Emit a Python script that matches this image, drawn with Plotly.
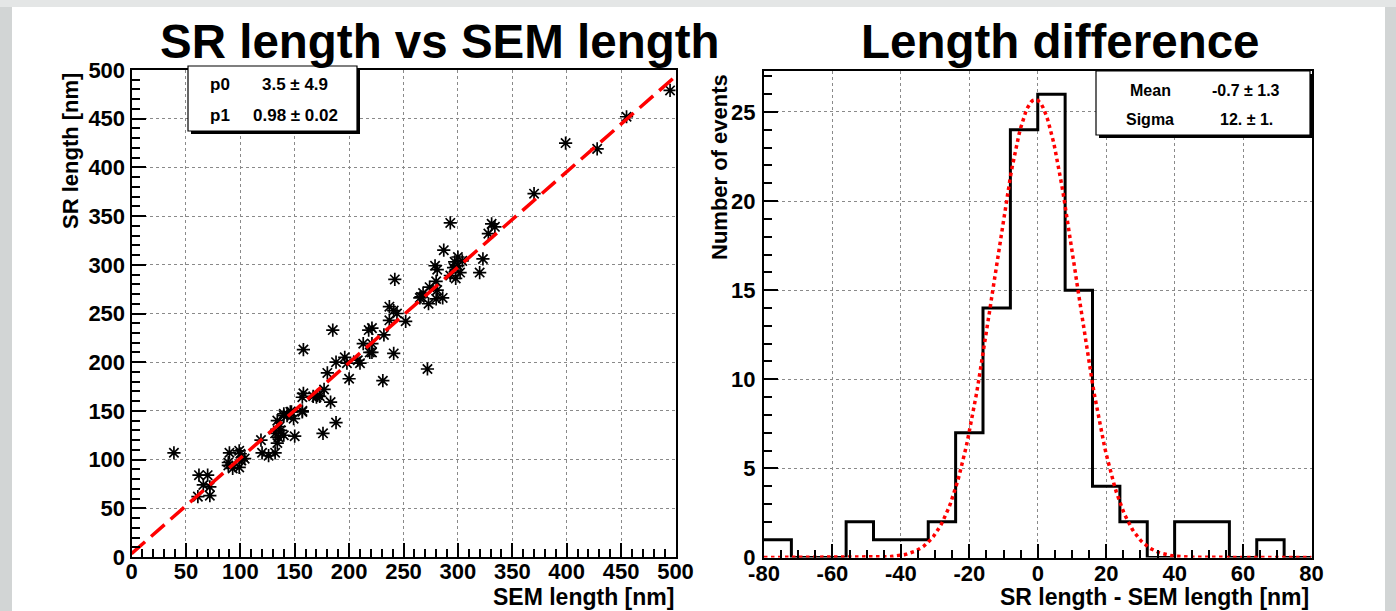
import numpy as np
import plotly.graph_objects as go

W, H = 1396, 611

# ---------------- data: scatter (SEM length, SR length) ----------------
sem_length = [370, 399, 428, 455, 495,
              293, 331, 328, 334, 287, 323, 320, 300, 297, 300, 302, 298, 279, 281, 293,
              280, 274, 268, 265, 273, 280, 286, 281, 242, 237, 241, 244, 237, 252, 221,
              232, 221, 221, 241, 272, 231, 296, 304, 266,
              185, 218, 158, 213, 219, 188, 196, 198, 208, 210, 180, 200, 177, 158, 167,
              170, 173, 157, 183, 157, 140, 146, 134, 149, 137, 150, 176, 188, 132, 140,
              143, 136, 171,
              39, 62, 70, 66, 72, 72, 61, 90, 99, 100, 89, 89, 101, 104, 99, 93, 119, 120,
              126, 132, 134, 135, 140, 147, 157]
sr_length = [373, 425, 419, 452, 479,
             343, 342, 332, 339, 315, 306, 292, 308, 303, 299, 292, 286, 299, 295, 289,
             283, 277, 271, 266, 260, 265, 266, 274, 285, 257, 253, 250, 243, 242, 235,
             228, 219, 210, 209, 193, 181, 297, 304, 267,
             233, 233, 213, 219, 210, 200, 205, 199, 202, 199, 189, 183, 172, 168, 165,
             164, 165, 164, 159, 150, 147, 149, 140, 142, 130, 124, 127, 138, 127, 125,
             145, 134, 166,
             107, 84, 84, 74, 72, 63, 62, 107, 109, 106, 97, 94, 99, 101, 92, 91, 120, 107,
             104, 107, 117, 123, 145, 149, 149]

# linear fit parameters
p0, p1 = 3.5, 0.98
fit_x = [0, 500]

# ---------------- data: histogram of differences ----------------
bin_edges = [-80, -72, -64, -56, -48, -40, -32, -24, -16, -8, 0,
             8, 16, 24, 32, 40, 48, 56, 64, 72, 80]
bin_counts = [1, 0, 0, 2, 1, 1, 2, 7, 14, 24, 26, 15, 4, 2, 0, 2, 2, 0, 1, 0]

# gaussian fit parameters
g_const, g_mean, g_sigma = 25.7, -0.7, 12.0

# tick labels
left_ticks = list(range(0, 501, 50))
hist_xticks = list(range(-80, 81, 20))
hist_yticks = list(range(0, 26, 5))

# ---------------- helpers ----------------
def PX(px):
    return px / W

def PY(py):
    return 1 - py / H

FONT = "Liberation Sans, Arial, sans-serif"

fig = go.Figure()

# scatter points
fig.add_trace(go.Scatter(
    x=sem_length, y=sr_length, mode="markers",
    marker=dict(symbol="asterisk-open", size=11, color="black",
                line=dict(color="black", width=1.7)),
    xaxis="x", yaxis="y", showlegend=False, hoverinfo="skip"))

# fit line
fit_y = [p0 + p1 * v for v in fit_x]
fig.add_trace(go.Scatter(
    x=fit_x, y=fit_y, mode="lines",
    line=dict(color="#ff0000", width=3.5, dash="18px,8px"),
    xaxis="x", yaxis="y", showlegend=False, hoverinfo="skip"))

# histogram step outline
step_x = bin_edges
step_y = bin_counts + [bin_counts[-1]]
fig.add_trace(go.Scatter(
    x=step_x, y=step_y, mode="lines", line_shape="hv",
    line=dict(color="black", width=3),
    xaxis="x2", yaxis="y2", showlegend=False, hoverinfo="skip"))

# gaussian fit curve
gx = np.linspace(bin_edges[0], bin_edges[-1], 321)
gy = g_const * np.exp(-0.5 * ((gx - g_mean) / g_sigma) ** 2)
fig.add_trace(go.Scatter(
    x=gx, y=gy, mode="lines",
    line=dict(color="#ff0000", width=3.5, dash="dot"),
    xaxis="x2", yaxis="y2", showlegend=False, hoverinfo="skip"))

axis_common = dict(
    showline=True, linecolor="black", linewidth=2, mirror=True,
    ticks="inside", tickcolor="black", tickwidth=2, ticklen=14,
    showgrid=True, gridcolor="#8a8a8a", gridwidth=1, griddash="dot",
    zeroline=False, automargin=False, tickmode="array",
    tickfont=dict(family=FONT, size=22, color="black", weight="bold"),
)

def minor(d):
    return dict(dtick=d, ticks="inside", ticklen=8, tickwidth=1.5,
                tickcolor="black", showgrid=False)

fig.update_layout(
    width=W, height=H,
    margin=dict(l=0, r=0, t=0, b=0),
    paper_bgcolor="white", plot_bgcolor="white",
    xaxis=dict(domain=[PX(131.5), PX(675.5)], range=[0, 500],
               tickvals=left_ticks, ticktext=[str(v) for v in left_ticks],
               ticklabelstandoff=-6,
               anchor="y", minor=minor(10), **axis_common),
    yaxis=dict(domain=[PY(557), PY(70)], range=[0, 500],
               tickvals=left_ticks, ticktext=[str(v) for v in left_ticks],
               anchor="x", minor=minor(10), **axis_common),
    xaxis2=dict(domain=[PX(764), PX(1311.5)], range=[-80, 80],
                tickvals=hist_xticks, ticktext=[str(v) for v in hist_xticks],
                ticklabelstandoff=-5,
                anchor="y2", minor=minor(5), **axis_common),
    yaxis2=dict(domain=[PY(557.5), PY(71)], range=[0, 27.3],
                tickvals=hist_yticks, ticktext=[str(v) for v in hist_yticks],
                ticklabelstandoff=2,
                anchor="x2", minor=minor(1), **axis_common),
)

shapes = []
# gray slide background edges
shapes.append(dict(type="rect", xref="paper", yref="paper", x0=0, x1=PX(12),
                   y0=0, y1=1, fillcolor="#d2d5d5", line=dict(width=0), layer="below"))
shapes.append(dict(type="rect", xref="paper", yref="paper", x0=PX(1385), x1=1,
                   y0=0, y1=1, fillcolor="#d2d5d5", line=dict(width=0), layer="below"))
shapes.append(dict(type="rect", xref="paper", yref="paper", x0=0, x1=1,
                   y0=PY(7), y1=1, fillcolor="#e4e6e6", line=dict(width=0), layer="below"))

def stat_box(x0, y0, x1, y1):
    shapes.append(dict(type="rect", xref="paper", yref="paper",
                       x0=PX(x0 + 3), x1=PX(x1 + 3), y0=PY(y1 + 3), y1=PY(y0 + 3),
                       fillcolor="black", line=dict(width=0), layer="above"))
    shapes.append(dict(type="rect", xref="paper", yref="paper",
                       x0=PX(x0), x1=PX(x1), y0=PY(y1), y1=PY(y0),
                       fillcolor="white", line=dict(color="black", width=1.2),
                       layer="above"))

stat_box(188, 66, 357, 131)
stat_box(1096, 71, 1310, 135)
fig.update_layout(shapes=shapes)

ann = []

def text(s, px, py, size, xanchor="center", yanchor="middle", angle=0):
    ann.append(dict(text=s, x=PX(px), y=PY(py), xref="paper", yref="paper",
                    showarrow=False, xanchor=xanchor, yanchor=yanchor,
                    textangle=angle,
                    font=dict(family=FONT, size=size, color="black", weight="bold")))

# titles
text("SR length vs SEM length", 440, 41, 47.5)
text("Length difference", 1060, 41, 47.5)
# axis titles
text("SEM length [nm]", 676, 597, 23, xanchor="right")
text("SR length - SEM length [nm]", 1311, 597, 23, xanchor="right")
text("SR length [nm]", 71, 71, 22, yanchor="top", angle=-90)
text("Number of events", 719, 72, 22, yanchor="top", angle=-90)
# stats box contents
text("p0", 220, 84, 17)
text(f"{p0} \u00b1 4.9", 295, 84, 17)
text("p1", 220, 115, 17)
text(f"{p1} \u00b1 0.02", 295, 115, 17)
text("Mean", 1150, 90, 16)
text(f"{g_mean} \u00b1 1.3", 1246, 90, 16)
text("Sigma", 1150, 120, 16)
text(f"{int(g_sigma)}. \u00b1 1.", 1246, 120, 16)

fig.update_layout(annotations=ann)

fig.write_html("out.html")
